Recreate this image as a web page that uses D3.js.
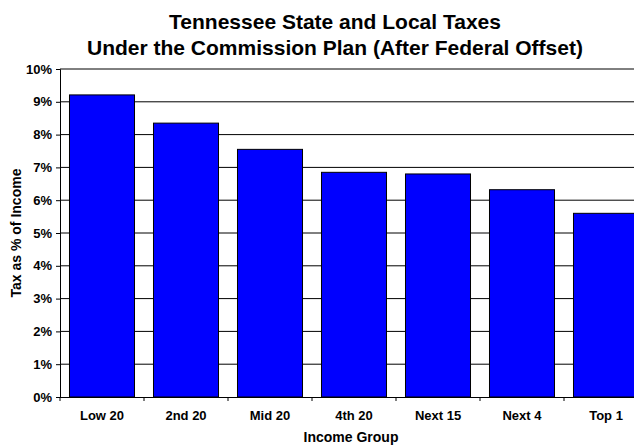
<!DOCTYPE html>
<html>
<head>
  <title>Tennessee State and Local Taxes</title>
  <script src="https://d3js.org/d3.v7.min.js"></script>
  <style>
    body { margin: 0; background: #fff; }
    svg text { font-family: "Liberation Sans", Arial, sans-serif; font-weight: bold; fill: #000; }
  </style>
</head>
<body>
  <div id="chart"></div>

  <script>
    // data
    const groups = ["Low 20", "2nd 20", "Mid 20", "4th 20", "Next 15", "Next 4", "Top 1"];
    const taxShare = [9.21, 8.35, 7.55, 6.85, 6.80, 6.32, 5.60];
    const yTicks = [0, 1, 2, 3, 4, 5, 6, 7, 8, 9, 10];

    const width = 634, height = 446;
    const plotLeft = 60, plotTop = 69, plotBottom = 397, plotRight = 648;

    const svg = d3.select("#chart")
      .append("svg")
      .attr("width", width)
      .attr("height", height);

    const x = d3.scaleBand()
      .domain(groups)
      .range([plotLeft, plotRight])
      .paddingInner(0.226)
      .paddingOuter(0.113);

    const y = d3.scaleLinear()
      .domain([0, 10])
      .range([plotBottom, plotTop]);

    // title
    const title = svg.append("text")
      .attr("text-anchor", "middle")
      .style("font-size", "21px");
    title.append("tspan").attr("x", 335).attr("y", 29).text("Tennessee State and Local Taxes");
    title.append("tspan").attr("x", 335).attr("y", 55).text("Under the Commission Plan (After Federal Offset)");

    // gridlines
    svg.append("g")
      .selectAll("line")
      .data(yTicks.filter(d => d > 0))
      .join("line")
      .attr("x1", plotLeft)
      .attr("x2", plotRight)
      .attr("y1", d => y(d))
      .attr("y2", d => y(d))
      .attr("stroke", "#000")
      .attr("stroke-width", 1);

    // bars
    svg.append("g")
      .selectAll("rect")
      .data(groups)
      .join("rect")
      .attr("x", d => x(d))
      .attr("y", (d, i) => y(taxShare[i]))
      .attr("width", x.bandwidth())
      .attr("height", (d, i) => y(0) - y(taxShare[i]))
      .attr("fill", "#0000ff")
      .attr("stroke", "#000")
      .attr("stroke-width", 1);

    // y axis
    const yAxis = svg.append("g")
      .attr("transform", `translate(${plotLeft},0)`)
      .call(d3.axisLeft(y).tickValues(yTicks).tickSize(4).tickPadding(4)
        .tickFormat(d => d + "%"));
    yAxis.select(".domain").attr("stroke", "#000");
    yAxis.selectAll(".tick line").attr("stroke", "#000");
    yAxis.selectAll("text").style("font-size", "13px");

    // x axis
    const xAxis = svg.append("g")
      .attr("transform", `translate(0,${plotBottom})`)
      .call(d3.axisBottom(x).tickSize(0).tickPadding(14));
    xAxis.select(".domain").attr("d", `M${plotLeft},0.5H${plotRight}`).attr("stroke", "#000");
    xAxis.selectAll("text").style("font-size", "13px");

    // tick marks between categories
    const step = x.step();
    svg.append("g")
      .selectAll("line")
      .data(d3.range(groups.length + 1))
      .join("line")
      .attr("x1", i => plotLeft + i * step)
      .attr("x2", i => plotLeft + i * step)
      .attr("y1", plotBottom)
      .attr("y2", plotBottom + 4)
      .attr("stroke", "#000");

    // axis titles
    svg.append("text")
      .attr("x", 351)
      .attr("y", 442)
      .attr("text-anchor", "middle")
      .style("font-size", "14px")
      .text("Income Group");

    svg.append("text")
      .attr("transform", `translate(21,${(plotTop + plotBottom) / 2}) rotate(-90)`)
      .attr("text-anchor", "middle")
      .style("font-size", "14px")
      .text("Tax as % of Income");
  </script>
</body>
</html>
